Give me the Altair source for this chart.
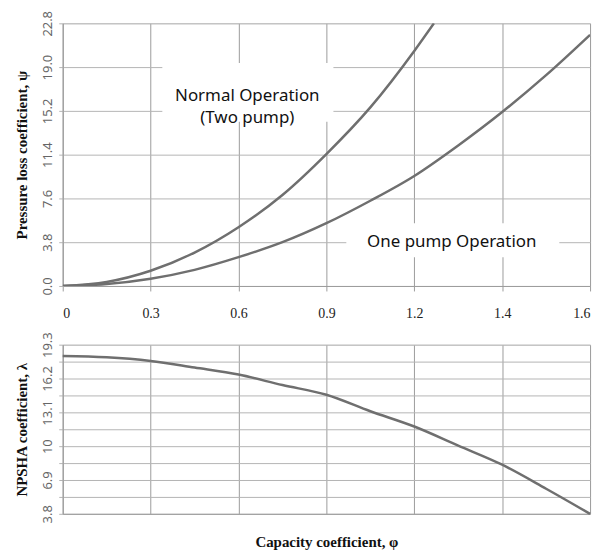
import json
import altair as alt
import pandas as pd

# ---- data (x in axis-position units; labels below are the printed ones) ----
X_TICKS = [0, 0.3, 0.6, 0.9, 1.2, 1.5, 1.8]
X_LABELS = ["0", "0.3", "0.6", "0.9", "1.2", "1.4", "1.6"]

PHI_ONE = [0, 0.15, 0.3, 0.45, 0.6, 0.75, 0.9, 1.05, 1.2, 1.35, 1.5, 1.65, 1.8]
PSI_ONE = [0, 0.17, 0.63, 1.4, 2.5, 3.8, 5.45, 7.4, 9.55, 12.2, 15.1, 18.3, 21.8]

PHI_TWO = [0, 0.15, 0.3, 0.45, 0.6, 0.75, 0.9, 1.05, 1.2, 1.267]
PSI_TWO = [0, 0.35, 1.32, 2.9, 5.1, 7.9, 11.45, 15.5, 20.4, 22.8]

PHI_NPSH = [0, 0.15, 0.3, 0.45, 0.6, 0.75, 0.9, 1.05, 1.2, 1.35, 1.5, 1.65, 1.8]
NPSH = [18.27, 18.15, 17.81, 17.2, 16.56, 15.6, 14.71, 13.2, 11.8, 10.05, 8.3, 6.1, 3.8]

Y1_TICKS = [0.0, 3.8, 7.6, 11.4, 15.2, 19.0, 22.8]
Y2_GRID = [3.8, 5.35, 6.9, 8.45, 10, 11.55, 13.1, 14.65, 16.2, 17.75, 19.3]
Y2_MAJOR = [3.8, 6.9, 10, 13.1, 16.2, 19.3]

ANNOT_TEXT = ["Normal Operation\n(Two pump)", "One pump Operation"]
ANNOT_X = [0.63, 1.328]
ANNOT_Y = [16.5, 3.8]
BOX_X1 = [0.34, 0.968]
BOX_X2 = [0.924, 1.695]
BOX_Y1 = [14.25, 2.5]
BOX_Y2 = [19.35, 5.44]

LINE_COLOR = "#6f6f6f"
XGRID = "#9c9c9c"
YGRID = "#b4b4b4"

curves = pd.concat([
    pd.DataFrame({"phi": PHI_TWO, "psi": PSI_TWO, "s": "two"}),
    pd.DataFrame({"phi": PHI_ONE, "psi": PSI_ONE, "s": "one"}),
])
npsh_df = pd.DataFrame({"phi": PHI_NPSH, "lam": NPSH})
annot = pd.DataFrame({"t": ANNOT_TEXT, "x": ANNOT_X, "y": ANNOT_Y,
                      "x1": BOX_X1, "x2": BOX_X2, "y1": BOX_Y1, "y2": BOX_Y2})

x_label_expr = f"{json.dumps(X_LABELS)}[round(datum.value/0.3)]"
x_scale = alt.Scale(domain=[0, 1.8], nice=False, zero=False)

x_top = alt.X("phi:Q", scale=x_scale, axis=alt.Axis(
    values=X_TICKS, labelExpr=x_label_expr, title=None, grid=True,
    gridColor=XGRID, domainColor=XGRID, tickColor=XGRID, tickSize=5,
    labelPadding=16, labelFont="Liberation Serif", labelFontSize=14,
    labelColor="#222"))

y_top = alt.Y("psi:Q", scale=alt.Scale(domain=[0, 22.8], nice=False),
              axis=alt.Axis(values=Y1_TICKS, labelExpr="format(datum.value, '.1f')",
                            title="Pressure loss coefficient, ψ", grid=True,
                            gridColor=YGRID, domainColor=XGRID, tickColor=YGRID,
                            tickSize=4, labelAngle=-90, labelAlign="center",
                            labelBaseline="bottom", labelPadding=4,
                            labelFont="Noto Sans", labelFontSize=13, labelColor="#666",
                            titleFont="Liberation Serif", titleFontSize=15,
                            titleFontWeight="bold", titleColor="#111", titlePadding=12))

lines_top = alt.Chart(curves).mark_line(
    color=LINE_COLOR, strokeWidth=2.5, interpolate="monotone", clip=True
).encode(x=x_top, y=y_top, detail="s:N")

boxes = alt.Chart(annot).mark_rect(color="white").encode(
    x=alt.X("x1:Q", scale=x_scale), x2="x2:Q",
    y=alt.Y("y1:Q"), y2="y2:Q")

texts = alt.Chart(annot).mark_text(
    font="Noto Sans", fontSize=17, color="#111", lineBreak="\n",
    lineHeight=22, align="center", baseline="middle"
).encode(x=alt.X("x:Q", scale=x_scale), y=alt.Y("y:Q"), text="t:N")

top = alt.layer(lines_top, boxes, texts).properties(width=530, height=264)

x_bot = alt.X("phi:Q", scale=x_scale, axis=alt.Axis(
    values=X_TICKS, labels=False, ticks=False, grid=True,
    gridColor=XGRID, domainColor=XGRID,
    title="Capacity coefficient, φ", titleFont="Liberation Serif",
    titleFontSize=15, titleFontWeight="bold", titleColor="#111", titlePadding=21))

y_bot = alt.Y("lam:Q", scale=alt.Scale(domain=[3.8, 19.3], nice=False, zero=False),
              axis=alt.Axis(values=Y2_GRID,
                            labelExpr=f"indexof({json.dumps(Y2_MAJOR)}, datum.value) >= 0 ? format(datum.value, '.3~g') : ''",
                            title="NPSHA coefficient, λ", grid=True,
                            gridColor=YGRID, domainColor=XGRID, tickColor=YGRID,
                            tickSize=4, labelAngle=-90, labelAlign="center",
                            labelBaseline="bottom", labelPadding=4,
                            labelFont="Noto Sans", labelFontSize=13, labelColor="#666",
                            titleFont="Liberation Serif", titleFontSize=15,
                            titleFontWeight="bold", titleColor="#111", titlePadding=12))

bottom = alt.Chart(npsh_df).mark_line(
    color=LINE_COLOR, strokeWidth=2.5, interpolate="monotone"
).encode(x=x_bot, y=y_bot).properties(width=530, height=170)

chart = alt.vconcat(top, bottom, spacing=59, bounds="flush").properties(
    padding={"top": 0, "left": 6, "right": 5, "bottom": 5}
).configure_view(stroke=None).configure(background="white")

chart.save("out.html", embed_options={"renderer": "svg", "actions": False})
